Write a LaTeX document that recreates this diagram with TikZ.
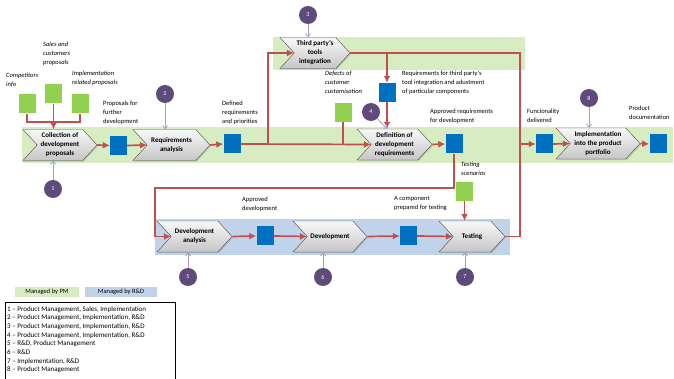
\documentclass[tikz,border=0pt]{standalone}
\usepackage{fontspec}
\setmainfont{Carlito}
\usetikzlibrary{arrows.meta,shapes.symbols,positioning,shadows}
\definecolor{PmBand}   {RGB}{215,236,192}
\definecolor{RdBand}   {RGB}{192,211,234}
\definecolor{InGreen}  {RGB}{146,208, 80}
\definecolor{OutBlue}  {RGB}{  0,112,192}
\definecolor{FlowRed}  {RGB}{192, 80, 77}
\definecolor{NumPurple}{RGB}{ 96, 74,123}
\definecolor{RefLilac} {RGB}{170,155,200}

\tikzset{
  chev/.style={signal, signal to=east, signal from=west, signal pointer angle=95,
    draw=gray!60!black, top color=gray!5, bottom color=gray!45, inner sep=0pt,
    minimum height=31pt, align=center,
    font=\fontsize{7}{9}\selectfont\bfseries,
    drop shadow={opacity=0.3,shadow xshift=1pt,shadow yshift=-1.2pt}},
  deliv/.style={fill=OutBlue, minimum width=17pt, minimum height=19pt, inner sep=0pt},
  inp/.style={fill=InGreen, minimum width=17pt, minimum height=19pt, inner sep=0pt},
  num/.style={circle, fill=NumPurple, text=white, minimum size=18pt, inner sep=0pt,
    font=\fontsize{6}{7}\selectfont},
  lbl/.style={anchor=north west, align=left, inner sep=0pt,
    font=\fontsize{6.5}{9}\selectfont},
  ilbl/.style={lbl, font=\fontsize{6.5}{9}\selectfont\itshape},
  flow/.style={-{Latex[length=7pt,width=7pt]}, FlowRed, line width=1.7pt},
  wire/.style={FlowRed, line width=1.7pt},
  ref/.style={-{Straight Barb[length=3pt,width=5pt]}, RefLilac, line width=0.8pt},
  legbox/.style={minimum height=10pt, inner sep=0pt, font=\fontsize{6.5}{8}\selectfont}
}

\begin{document}
\begin{tikzpicture}[x=1pt,y=-1pt]
  \useasboundingbox (0,0) rectangle (674,379);

  % bands
  \fill[PmBand] (22,127) rectangle (673,163);
  \fill[PmBand] (273,37) rectangle (525,70);
  \fill[RdBand] (155,219) rectangle (510,255);

  % process steps
  \node[chev,minimum width=74pt] (colp) at (60,145)   {Collection of\\development\\proposals};
  \node[chev,minimum width=77pt] (reqa) at (171.5,145) {Requirements\\analysis};
  \node[chev,minimum width=70pt] (thp)  at (315,53)    {Third party's\\tools\\integration};
  \node[chev,minimum width=75pt] (defr) at (394.5,144.5) {Definition of\\development\\requirements};
  \node[chev,minimum width=84pt] (impl) at (598,143.5) {Implementation\\into the product\\portfolio};
  \node[chev,minimum width=75pt] (deva) at (194.5,236.5) {Development\\analysis};
  \node[chev,minimum width=74pt] (dev)  at (330,236.5) {Development};
  \node[chev,minimum width=66pt] (tst)  at (472,236.5) {Testing};

  % deliverables
  \node[deliv] (pfd) at (118.5,145.5) {};
  \node[deliv] (drp) at (232,144) {};
  \node[deliv] (rtp) at (387,92.5) {};
  \node[deliv] (ard) at (454,144) {};
  \node[deliv] (fdl) at (544.5,144) {};
  \node[deliv] (pdc) at (658,144) {};
  \node[deliv] (apd) at (265,236) {};
  \node[deliv] (cpt) at (408.5,236) {};

  % inputs
  \node[inp] (cin) at (27,104) {};
  \node[inp] (sal) at (53.5,94) {};
  \node[inp] (irp) at (80,104) {};
  \node[inp] (dcc) at (343,112.5) {};
  \node[inp] (tsc) at (464.5,191.5) {};

  % labels
  \node[ilbl] (lcin) at (6,73)   {Competitors\\info};
  \node[ilbl] (lsal) at (43,42)  {Sales and\\customers\\proposals};
  \node[ilbl] (lirp) at (72,71)  {Implementation\\related proposals};
  \node[lbl]  (lpfd) at (103,101) {Proposals for\\further\\development};
  \node[lbl]  (ldrp) at (222,101) {Defined\\requirements\\and priorities};
  \node[ilbl] (ldcc) at (325,71)  {Defects of\\customer\\customisation};
  \node[lbl]  (lrtp) at (402,71)  {Requirements for third party's\\tool integration and adustment\\of particular components};
  \node[lbl]  (lard) at (430,109) {Approved requirements\\for development};
  \node[lbl]  (lfdl) at (527,109) {Funcionality\\delivered};
  \node[lbl]  (lpdc) at (629,106) {Product\\documentation};
  \node[ilbl] (ltsc) at (461,162) {Testing\\scenarios};
  \node[lbl]  (lapd) at (242,197) {Approved\\development};
  \node[lbl]  (lcpt) at (394,196) {A component\\prepared for testing};

  % responsibility numbers
  \foreach \n/\x/\y in {1/53/189,2/165/94,3/308/15,4/371/112,5/188/277,6/323/277,7/465/277,8/589/98}
    \node[num] (n\n) at (\x,\y) {\n};

  % red flow
  \coordinate (jin) at (53.5,122);
  \draw[wire] (cin.south) |- (jin) -| (irp.south);
  \draw[flow] (sal.south) -- (sal.south |- colp.north);
  \draw[flow] (colp.east) -- (pfd.west);
  \draw[flow] (pfd.east) -- (reqa.west);
  \draw[flow] (reqa.east) -- (drp.west);
  \draw[flow] (drp.east) -- (defr.west);
  \coordinate (jtp) at (268,144);
  \draw[flow] (jtp) |- (thp.west);
  \draw[wire] (dcc.south) -- (dcc.south |- drp.east);
  \coordinate (vbus) at (520,144);
  \draw[flow] (thp.east) -| (vbus) -- (fdl.west);
  \draw[flow] (rtp.north |- thp.east) -- (rtp.north);
  \coordinate (dtop) at (rtp.south |- defr.north);
  \draw[flow] (rtp.south) -- (dtop);
  \draw[flow] (defr.east) -- (ard.west);
  \coordinate (jloop) at (155,188);
  \draw[flow] (ard.south) |- (jloop) |- (deva.west);
  \draw[flow] (deva.east) -- (apd.west);
  \draw[flow] (apd.east) -- (dev.west);
  \draw[flow] (dev.east) -- (cpt.west);
  \draw[flow] (cpt.east) -- (tst.west);
  \draw[flow] (tsc.south) -- (tsc.south |- tst.north);
  \draw[wire] (tst.east) -| (vbus);
  \draw[flow] (fdl.east) -- (impl.west);
  \draw[flow] (impl.east) -- (pdc.west);

  % who is responsible
  \draw[ref] (n1.north) -- (n1.north |- colp.south);
  \draw[ref] (n2.south) -- (n2.south |- reqa.north);
  \draw[ref] (n3.south) -- (n3.south |- thp.north);
  \draw[ref] (n4) -- (dtop);
  \draw[ref] (n5.north) -- (n5.north |- deva.south);
  \draw[ref] (n6.north) -- (n6.north |- dev.south);
  \draw[ref] (n7.north) -- (n7.north |- tst.south);
  \draw[ref] (n8.south) -- (n8.south |- impl.north);

  % legend
  \node[legbox,fill=PmBand,minimum width=64pt] (lpm) at (47,292) {Managed by PM};
  \node[legbox,fill=RdBand,minimum width=72pt] (lrd) at (121,292) {Managed by R\&D};
  \draw[black,line width=0.6pt] (5,302) rectangle (175,390);
  \node[anchor=north west,align=left,inner sep=0pt,font=\fontsize{7}{8.7}\selectfont] (resp) at (7,306)
    {1 -- Product Management, Sales, Implementation\\
     2 -- Product Management, Implementation, R\&D\\
     3 -- Product Management, Implementation, R\&D\\
     4 -- Product Management, Implementation, R\&D\\
     5 -- R\&D, Product Management\\
     6 -- R\&D\\
     7 -- Implementation, R\&D\\
     8 -- Product Management};
\end{tikzpicture}
\end{document}
